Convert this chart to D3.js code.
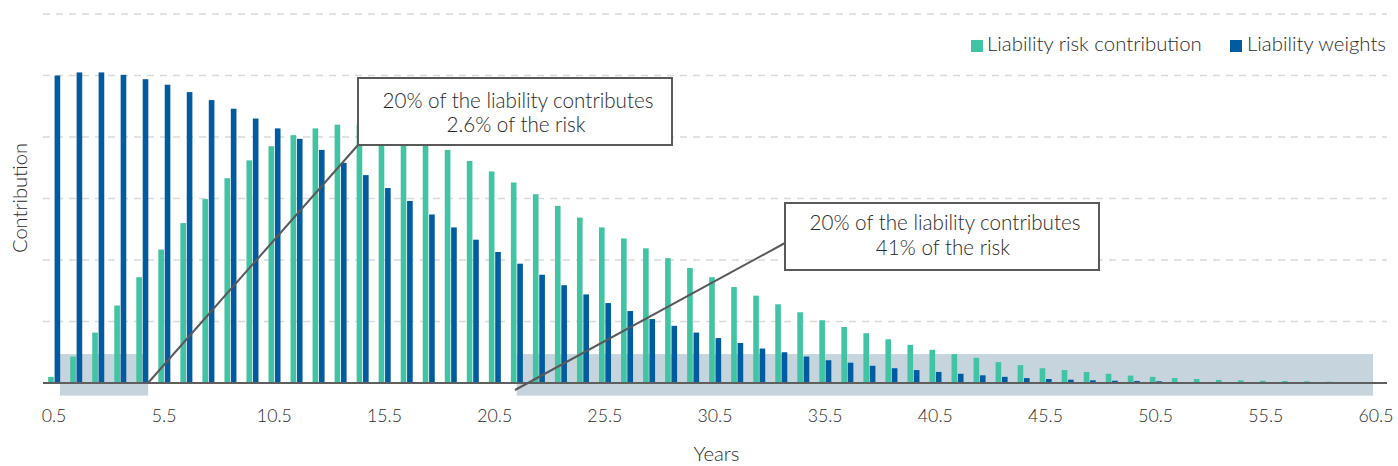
<!DOCTYPE html>
<html>
<head>
<meta charset="utf-8">
<script src="https://cdn.jsdelivr.net/npm/d3@7"></script>
<style>
  html, body { margin: 0; padding: 0; background: #fff; }
  svg { display: block; font-family: "Lato", "Open Sans", sans-serif; font-weight: 300; }
</style>
</head>
<body>
<svg id="chart" width="1398" height="466"></svg>
<script>
// ---------- DATA ----------
const categories = ["0.5","1.5","2.5","3.5","4.5","5.5","6.5","7.5","8.5","9.5",
  "10.5","11.5","12.5","13.5","14.5","15.5","16.5","17.5","18.5","19.5",
  "20.5","21.5","22.5","23.5","24.5","25.5","26.5","27.5","28.5","29.5",
  "30.5","31.5","32.5","33.5","34.5","35.5","36.5","37.5","38.5","39.5",
  "40.5","41.5","42.5","43.5","44.5","45.5","46.5","47.5","48.5","49.5",
  "50.5","51.5","52.5","53.5","54.5","55.5","56.5","57.5","58.5","59.5","60.5"];

// Liability risk contribution (% of total risk)
const riskContribution = [0.10,0.43,0.82,1.26,1.72,2.17,2.60,2.99,3.33,3.62,
  3.85,4.03,4.14,4.20,4.20,4.16,4.08,3.95,3.79,3.61,
  3.44,3.26,3.07,2.88,2.69,2.53,2.35,2.19,2.03,1.87,
  1.72,1.56,1.42,1.28,1.15,1.02,0.91,0.81,0.71,0.62,
  0.54,0.47,0.41,0.34,0.29,0.24,0.21,0.18,0.15,0.12,
  0.10,0.08,0.065,0.05,0.044,0.037,0.033,0.028,0.021,0.016,0.011];

// Liability weights (% of total liability)
const liabilityWeights = [5.00,5.05,5.05,5.01,4.94,4.85,4.73,4.60,4.46,4.30,
  4.14,3.97,3.79,3.58,3.38,3.17,2.96,2.74,2.53,2.33,
  2.13,1.94,1.76,1.59,1.44,1.30,1.17,1.04,0.93,0.82,
  0.73,0.65,0.56,0.50,0.43,0.37,0.33,0.28,0.24,0.21,
  0.18,0.15,0.125,0.10,0.08,0.065,0.054,0.044,0.037,0.033,
  0.028,0.016,0.013,0.010,0.008,0.006,0.005,0.004,0.003,0.002,0.002];

const tickLabels = ["0.5","5.5","10.5","15.5","20.5","25.5","30.5","35.5","40.5","45.5","50.5","55.5","60.5"];
const gridValues = [1,2,3,4,5,6];

const seriesNames = ["Liability risk contribution", "Liability weights"];
const seriesColors = ["#40c4a3", "#005ba1"];

const annotationTexts = [
  ["20% of the liability contributes", "2.6% of the risk"],
  ["20% of the liability contributes", "41% of the risk"]
];

(function draw() {
// ---------- LAYOUT ----------
const svg = d3.select("#chart");
const pLeft = 43, pRight = 1387, pTop = 14, pBase = 383;
const textColor = "#2b2b2b";

const x = d3.scaleBand().domain(categories).range([pLeft, pRight]).padding(0);
const bw = x.bandwidth();
const x1 = d3.scaleBand().domain(seriesNames).range([bw*0.235, bw*0.78]).paddingInner(0.12);
const y = d3.scaleLinear().domain([0, 6]).range([pBase, pTop]);

function fit(sel, target) {
  sel.each(function() {
    const el = this;
    const base = 20;
    el.setAttribute("font-size", base);
    const w = el.getComputedTextLength();
    el.setAttribute("font-size", (base * target / w).toFixed(2));
  });
}

// gridlines
svg.append("g").selectAll("line").data(gridValues).join("line")
  .attr("x1", pLeft).attr("x2", pRight)
  .attr("y1", d => y(d)).attr("y2", d => y(d))
  .attr("stroke", "#d9d9d9").attr("stroke-width", 1.5)
  .attr("stroke-dasharray", "7,6");

// shaded ranges
const shades = [
  {x0: x("0.5") + bw/2 + 6, x1: x("4.5") + bw/2 + 6},
  {x0: x("21.5") + bw/2, x1: x("60.5") + bw/2 - 3}
];
svg.append("g").selectAll("rect").data(shades).join("rect")
  .attr("x", d => d.x0).attr("width", d => d.x1 - d.x0)
  .attr("y", y(0.47)).attr("height", y(-0.205) - y(0.47))
  .attr("fill", "#c6d4dd");

// bars
const rows = categories.map((c, i) => ({cat: c, vals: [riskContribution[i], liabilityWeights[i]]}));
const barG = svg.append("g");
rows.forEach(r => {
  r.vals.forEach((v, k) => {
    barG.append("rect")
      .attr("x", x(r.cat) + x1(seriesNames[k]))
      .attr("width", x1.bandwidth())
      .attr("y", y(v))
      .attr("height", y(0) - y(v))
      .attr("fill", seriesColors[k]);
  });
});

// x axis
const xAxis = d3.axisBottom(x).tickValues(tickLabels).tickSize(0).tickPadding(0);
const ax = svg.append("g").attr("transform", `translate(0,${pBase})`).call(xAxis);
ax.select(".domain").remove();
ax.attr("font-family", null).attr("font-size", null);
ax.selectAll("text").attr("fill", textColor).attr("dy", 0).attr("y", 38.5);
const t105 = ax.selectAll("text").filter(d => d === "10.5");
fit(t105, 35);
const tickFs = t105.attr("font-size");
ax.selectAll("text").attr("font-size", tickFs);
svg.append("line").attr("x1", pLeft).attr("x2", pRight).attr("y1", pBase).attr("y2", pBase)
  .attr("stroke", "#5f5f5f").attr("stroke-width", 2);

// axis titles
const yt = svg.append("text").attr("transform", "translate(27,198) rotate(-90)")
  .attr("text-anchor", "middle").attr("fill", textColor).text("Contribution");
fit(yt, 110);
const xt = svg.append("text").attr("x", (pLeft+pRight)/2 + 1.5).attr("y", 461)
  .attr("text-anchor", "middle").attr("fill", textColor).text("Years");
fit(xt, 46);

// callouts
const callouts = [
  {line: [[148, 383], [358, 145]], box: [358, 78, 672, 145], base: [108, 132]},
  {line: [[515, 390], [785, 243]], box: [785, 203, 1099, 270], base: [230, 255]}
];
callouts.forEach((c, i) => {
  svg.append("line").attr("x1", c.line[0][0]).attr("y1", c.line[0][1])
    .attr("x2", c.line[1][0]).attr("y2", c.line[1][1])
    .attr("stroke", "#595959").attr("stroke-width", 2);
  svg.append("rect").attr("x", c.box[0]).attr("y", c.box[1])
    .attr("width", c.box[2]-c.box[0]).attr("height", c.box[3]-c.box[1])
    .attr("fill", "#fff").attr("stroke", "#595959").attr("stroke-width", 2);
  const cx = (c.box[0]+c.box[2])/2;
  const t1 = svg.append("text").attr("x", cx + 3).attr("y", c.base[0]).attr("text-anchor", "middle")
    .attr("fill", textColor).text(annotationTexts[i][0]);
  fit(t1, 271);
  const fs = t1.attr("font-size");
  svg.append("text").attr("x", cx + 1).attr("y", c.base[1]).attr("text-anchor", "middle")
    .attr("fill", textColor).attr("font-size", fs).text(annotationTexts[i][1]);
});

// legend
const legend = [
  {sx: 971, tx: 987, w: 215},
  {sx: 1230, tx: 1247, w: 139}
];
let legendFs = null;
legend.forEach((l, k) => {
  svg.append("rect").attr("x", l.sx).attr("y", 40).attr("width", 12).attr("height", 12)
    .attr("fill", seriesColors[k]);
  const t = svg.append("text").attr("x", l.tx).attr("y", 51).attr("fill", textColor).text(seriesNames[k]);
  if (k === 0) { fit(t, l.w); legendFs = t.attr("font-size"); }
  else t.attr("font-size", legendFs);
});
})();
</script>
</body>
</html>
